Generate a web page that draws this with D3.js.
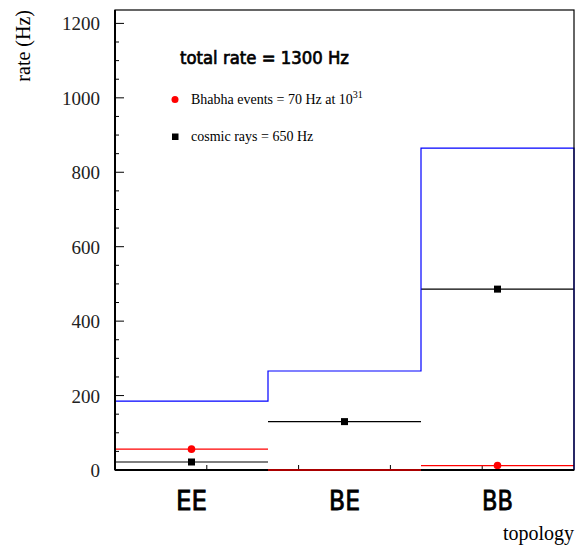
<!DOCTYPE html>
<html>
<head>
<meta charset="utf-8">
<script src="https://cdn.jsdelivr.net/npm/d3@7"></script>
<style>
  body { margin: 0; background: #fff; }
  svg { display: block; }
</style>
</head>
<body>
<div id="chart"></div>
<script>
// data
const topologies = ["EE", "BE", "BB"];
const totalRate = [185, 266, 865];
const cosmicRate = [21.5, 130, 486];
const bhabhaRate = [56, 0, 12];
const yTicks = [0, 200, 400, 600, 800, 1000, 1200];

const W = 578, H = 546;
const margin = { top: 10, right: 4, bottom: 76, left: 115 };
const width = W - margin.left - margin.right,
  height = H - margin.top - margin.bottom;

const svg = d3.select("#chart").append("svg")
  .attr("width", W).attr("height", H);

const g = svg.append("g")
  .attr("transform", `translate(${margin.left},${margin.top})`);

const x = d3.scaleBand().domain(topologies).range([0, width]).padding(0);
const y = d3.scaleLinear().domain([0, 1236]).range([height, 0]);
const bw = x.bandwidth();

// y ticks (major + minor), drawn inward from the left edge
const minor = d3.range(0, 1236, 50).filter(v => v % 200 !== 0);
g.selectAll(".ymin").data(minor).join("line")
  .attr("x1", 0).attr("x2", 4)
  .attr("y1", d => y(d)).attr("y2", d => y(d))
  .attr("stroke", "#000").attr("stroke-width", 1);
g.selectAll(".ymaj").data(yTicks).join("line")
  .attr("x1", 0).attr("x2", 9)
  .attr("y1", d => y(d)).attr("y2", d => y(d))
  .attr("stroke", "#000").attr("stroke-width", 1);
g.selectAll(".ylab").data(yTicks).join("text")
  .attr("x", -15).attr("y", d => y(d) + 7)
  .attr("text-anchor", "end")
  .attr("font-family", "'Liberation Serif', 'DejaVu Serif', serif")
  .attr("font-size", 19)
  .attr("fill", "#222")
  .text(d => d);

// x ticks: five divisions along the bottom
const xt = d3.scaleLinear().domain([0, 5]).range([0, width]);
g.selectAll(".xt").data([1, 2, 3, 4]).join("line")
  .attr("x1", d => xt(d)).attr("x2", d => xt(d))
  .attr("y1", height).attr("y2", height - 5)
  .attr("stroke", "#000");

// series lines across each bin
function binLines(data, color, cls) {
  g.selectAll("." + cls).data(data).join("line")
    .attr("x1", (d, i) => x(topologies[i]))
    .attr("x2", (d, i) => x(topologies[i]) + bw)
    .attr("y1", d => y(d)).attr("y2", d => y(d))
    .attr("stroke", color).attr("stroke-width", 1.2);
}
binLines(bhabhaRate, "#f00", "bl");
binLines(cosmicRate, "#000", "cl");

// total rate histogram outline
const step = [[0, height]];
totalRate.forEach((v, i) => {
  step.push([x(topologies[i]), y(v)]);
  step.push([x(topologies[i]) + bw, y(v)]);
});
step.push([width, height]);
g.append("path")
  .attr("d", d3.line()(step))
  .attr("fill", "none").attr("stroke", "#00f").attr("stroke-width", 1.2);

// markers (empty bins get no marker)
g.selectAll(".bm").data(bhabhaRate.map((v, i) => [v, i]).filter(d => d[0] > 0)).join("circle")
  .attr("cx", d => x(topologies[d[1]]) + bw / 2)
  .attr("cy", d => y(d[0])).attr("r", 3.8)
  .attr("fill", "#f00");
g.selectAll(".cm").data(cosmicRate).join("rect")
  .attr("x", (d, i) => x(topologies[i]) + bw / 2 - 3.5)
  .attr("y", d => y(d) - 3.5)
  .attr("width", 7).attr("height", 7)
  .attr("fill", "#000");

// frame
g.append("rect")
  .attr("width", width).attr("height", height)
  .attr("fill", "none").attr("stroke", "#000").attr("stroke-width", 1.2);
g.append("line")
  .attr("x1", 0).attr("x2", width).attr("y1", height).attr("y2", height)
  .attr("stroke", "#000").attr("stroke-width", 2);
g.append("line")
  .attr("x1", 0).attr("x2", 0).attr("y1", 0).attr("y2", height)
  .attr("stroke", "#000").attr("stroke-width", 2);
g.append("line")
  .attr("x1", x("BE")).attr("x2", x("BE") + bw)
  .attr("y1", height).attr("y2", height)
  .attr("stroke", "#a00").attr("stroke-width", 2);

// category labels
g.selectAll(".xlab").data(topologies).join("text")
  .attr("x", d => x(d) + bw / 2).attr("y", height + 40)
  .attr("text-anchor", "middle")
  .attr("font-family", "'DejaVu Sans', sans-serif")
  .attr("font-size", 26)
  .attr("stroke", "#000").attr("stroke-width", 0.8)
  .attr("textLength", 31)
  .attr("lengthAdjust", "spacingAndGlyphs")
  .text(d => d);

// axis titles
svg.append("text")
  .attr("transform", "translate(30,10) rotate(-90)")
  .attr("text-anchor", "end")
  .attr("font-family", "'Liberation Serif', serif")
  .attr("font-size", 20)
  .text("rate (Hz)");
svg.append("text")
  .attr("x", 574).attr("y", 540)
  .attr("text-anchor", "end")
  .attr("font-family", "'Liberation Serif', serif")
  .attr("font-size", 20)
  .text("topology");

// annotations
svg.append("text")
  .attr("x", 180).attr("y", 63.5)
  .attr("font-family", "'DejaVu Sans', sans-serif")
  .attr("font-size", 17.5)
  .attr("stroke", "#000").attr("stroke-width", 0.7)
  .attr("textLength", 169)
  .attr("lengthAdjust", "spacingAndGlyphs")
  .text("total rate = 1300 Hz");

svg.append("circle").attr("cx", 175).attr("cy", 99.5).attr("r", 3.5).attr("fill", "#f00");
const bt = svg.append("text")
  .attr("x", 191).attr("y", 104)
  .attr("font-family", "'Liberation Serif', serif")
  .attr("font-size", 14);
bt.append("tspan").text("Bhabha events = 70 Hz at 10");
bt.append("tspan").attr("dy", -6).attr("font-size", 10).text("31");

svg.append("rect").attr("x", 172).attr("y", 133.5).attr("width", 6.5).attr("height", 6.5).attr("fill", "#000");
svg.append("text")
  .attr("x", 191).attr("y", 141)
  .attr("font-family", "'Liberation Serif', serif")
  .attr("font-size", 14)
  .text("cosmic rays = 650 Hz");
</script>
</body>
</html>
